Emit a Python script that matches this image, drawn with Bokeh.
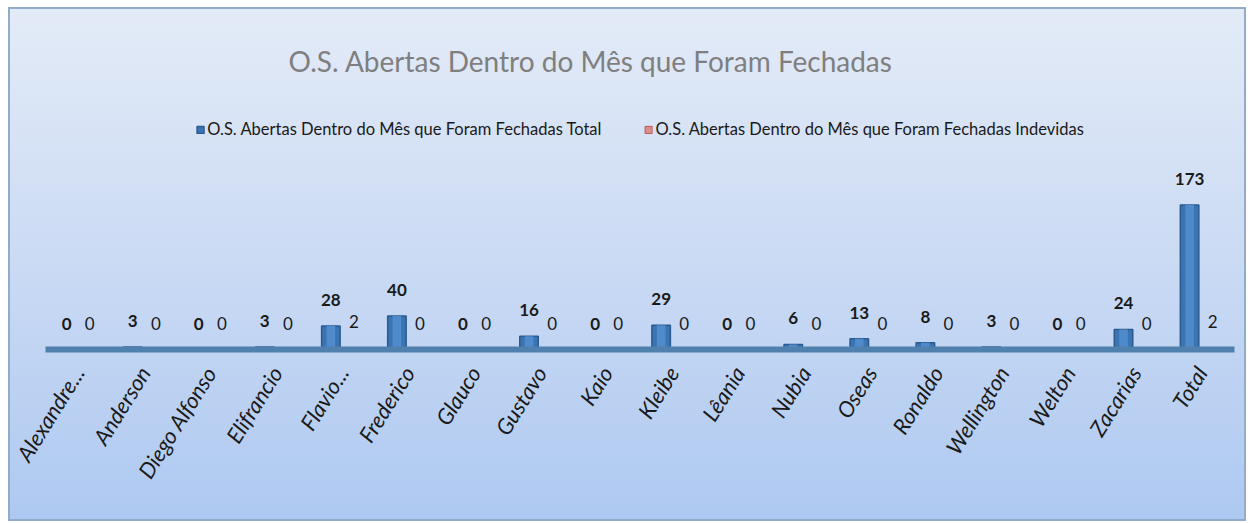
from bokeh.plotting import figure
from bokeh.models import FactorRange, Range1d, ColumnDataSource, Legend, LegendItem
from bokeh.transform import dodge
from bokeh.core.properties import value
from bokeh.embed import file_html
from bokeh.resources import INLINE
import math

categories = ["Alexandre...", "Anderson", "Diego Alfonso", "Elifrancio", "Flavio...",
              "Frederico", "Glauco", "Gustavo", "Kaio", "Kleibe", "Lêania", "Nubia",
              "Oseas", "Ronaldo", "Wellington", "Welton", "Zacarias", "Total"]
fechadas_total = [0, 3, 0, 3, 28, 40, 0, 16, 0, 29, 0, 6, 13, 8, 3, 0, 24, 173]
fechadas_indevidas = [0, 0, 0, 0, 2, 0, 0, 0, 0, 0, 0, 0, 0, 0, 0, 0, 0, 2]
series_names = ["O.S. Abertas Dentro do Mês que Foram Fechadas Total",
                "O.S. Abertas Dentro do Mês que Foram Fechadas Indevidas"]
title_text = "O.S. Abertas Dentro do Mês que Foram Fechadas"

src = ColumnDataSource(dict(
    cat=categories,
    total=fechadas_total,
    indev=fechadas_indevidas,
    total_lbl=[str(v) for v in fechadas_total],
    indev_lbl=[str(v) for v in fechadas_indevidas],
))

FONT = "Lato"

p = figure(width=1238, height=514, output_backend="svg", toolbar_location=None,
           x_range=FactorRange(factors=categories, range_padding=0),
           y_range=Range1d(0, 292),
           min_border_left=35, min_border_right=14, min_border_top=96, min_border_bottom=174,
           styles={"background": "linear-gradient(to bottom, #e3ebf7 0%, #cddcf4 45%, #aec9f1 100%)",
                   "border": "2px solid #93abcb",
                   "margin-left": "8px", "margin-top": "7px"})
p.background_fill_alpha = 0
p.border_fill_alpha = 0
p.outline_line_color = None
p.grid.visible = False
p.yaxis.visible = False

p.title.text = title_text
p.title.text_font = FONT
p.title.text_font_size = "28px"
p.title.text_font_style = "normal"
p.title.text_color = "#7f7f7f"
p.title.align = "left"
p.title.offset = 243
p.title.standoff = 55

blue = p.vbar(x=dodge("cat", -0.18, range=p.x_range), top="total", width=0.28, source=src,
              fill_color="#3a74b3", line_color="#2a5a8e", line_width=1.5)
p.vbar(x=dodge("cat", -0.18, range=p.x_range), top="total", width=0.13, source=src,
       fill_color="#4f8bcb", line_color=None)
red = p.vbar(x=dodge("cat", 0.17, range=p.x_range), top="indev", width=0.28, source=src,
             fill_color="#d8908c", line_color="#c0504d", line_width=1)

p.text(x=dodge("cat", -0.18, range=p.x_range), y="total", text="total_lbl", source=src,
       text_align="center", text_baseline="middle", y_offset=-26,
       text_font=value(FONT), text_font_style="bold", text_font_size="17px", text_color="#1a1a1a")
p.text(x=dodge("cat", 0.17, range=p.x_range), y="indev", text="indev_lbl", source=src,
       text_align="center", text_baseline="middle", y_offset=-26,
       text_font=value(FONT), text_font_style="normal", text_font_size="17px", text_color="#1a1a1a")

xa = p.xaxis[0]
xa.axis_line_color = "#5080ad"
xa.axis_line_width = 6
xa.major_tick_line_color = None
xa.minor_tick_line_color = None
xa.major_label_orientation = math.radians(58)
xa.major_label_standoff = 13
xa.major_label_text_font = FONT
xa.major_label_text_font_style = "italic"
xa.major_label_text_font_size = "22px"
xa.major_label_text_color = "#1a1a1a"

legend = Legend(items=[LegendItem(label=series_names[0], renderers=[blue]),
                       LegendItem(label=series_names[1], renderers=[red])],
                orientation="horizontal", location="top_center",
                background_fill_alpha=0, border_line_color=None,
                label_text_font=FONT, label_text_font_size="16.5px", label_text_color="#1a1a1a",
                glyph_width=9, glyph_height=9, label_standoff=3, spacing=42,
                margin=14, padding=4)
p.add_layout(legend)

open("out.html", "w").write(file_html(p, INLINE))
